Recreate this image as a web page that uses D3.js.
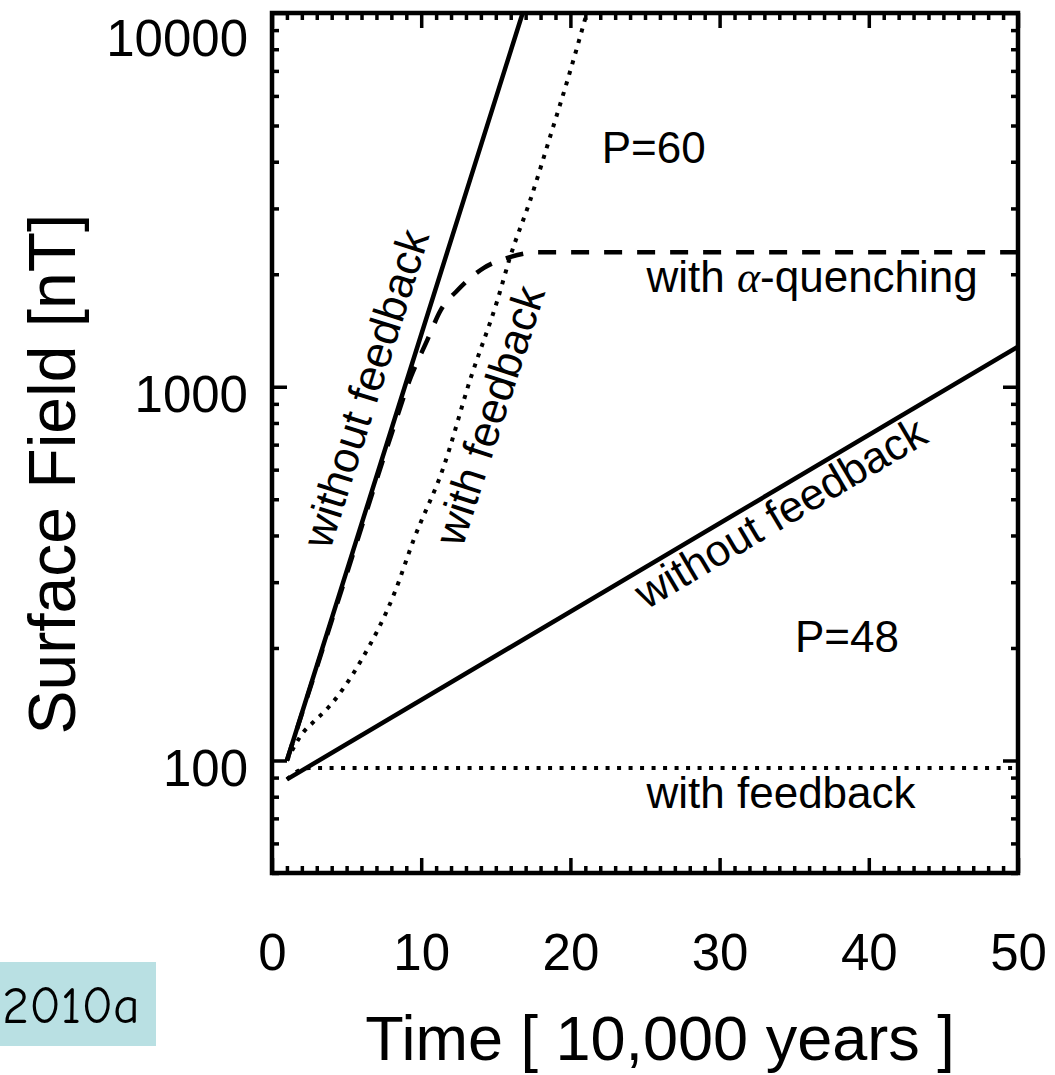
<!DOCTYPE html>
<html>
<head>
<meta charset="utf-8">
<script src="https://cdn.jsdelivr.net/npm/d3@7"></script>
<style>
  html, body { margin: 0; padding: 0; background: #fff; overflow: hidden; }
  svg { display: block; width: 100vw; height: 100vh; font-family: "Liberation Sans", Arial, Helvetica, sans-serif; }
</style>
</head>
<body>
<svg></svg>
<script>
// values (time in 10,000 years, field in nT)
const p60WithoutTime = [1, 8.9, 16.8];
const p60WithoutField = [100, 1000, 10000];

const p60WithTime = [1, 2.1, 2.8, 3.8, 6, 8.2, 9.5, 11.5, 13.3, 15.1, 16.0, 17.3, 18.7, 19.8, 21.1];
const p60WithField = [100, 119, 127, 139, 186, 280, 390, 610, 1050, 1700, 2250, 3150, 4750, 6600, 10000];

const quenchTime = [1, 5, 8, 9.3, 10.4, 11.3, 12.45, 14.2, 16, 17.8, 50];
const quenchField = [100, 315, 745, 1060, 1330, 1600, 1815, 2080, 2225, 2290, 2290];

const p48WithoutTime = [1, 50];
const p48WithoutField = [89, 1280];

const p48WithTime = [1, 1.8, 2.5, 50];
const p48WithField = [89, 94, 95.5, 95.5];

const xTicks = [0, 10, 20, 30, 40, 50];
const yTicks = [100, 1000, 10000];

const width = 1055;
const height = 1075;
const margin = { top: 13, right: 37, bottom: 202, left: 272 };
const innerWidth = width - margin.left - margin.right;
const innerHeight = height - margin.top - margin.bottom;

// viewBox keeps the whole figure inside the window whatever its size
const svg = d3.select("svg")
  .attr("viewBox", `0 0 ${width} ${height}`)
  .attr("preserveAspectRatio", "xMidYMid meet");

const xScale = d3.scaleLinear().domain([0, 50]).range([0, innerWidth]);
const yScale = d3.scaleLog().domain([50, 10000]).range([innerHeight, 0]);

const chartGroup = svg.append("g")
  .attr("transform", `translate(${margin.left},${margin.top})`);

// minor tick values
const xMinor = d3.range(0, 51).filter(d => d % 10 !== 0);
const yMinor = [];
[10, 100, 1000].forEach(dec => {
  for (let k = 2; k <= 9; k++) {
    if (k * dec >= 50 && k * dec < 10000) yMinor.push(k * dec);
  }
});

function styleAxis(g) {
  g.select(".domain").remove();
  g.selectAll("line").attr("stroke", "#000").attr("stroke-width", 3.5);
}
// ticks only: drop the empty labels
function ticksOnly(g) {
  styleAxis(g);
  g.selectAll("text").remove();
}

// bottom axis with labels
chartGroup.append("g")
  .attr("transform", `translate(0,${innerHeight})`)
  .call(d3.axisBottom(xScale).tickValues(xTicks).tickSize(-15).tickPadding(61))
  .call(styleAxis)
  .call(g => g.selectAll("text").attr("font-size", 51).attr("fill", "#000")
    .attr("font-family", "Liberation Sans, Arial, sans-serif"));
chartGroup.append("g")
  .attr("transform", `translate(0,${innerHeight})`)
  .call(d3.axisBottom(xScale).tickValues(xMinor).tickSize(-7))
  .call(ticksOnly);

// top axis, ticks only
chartGroup.append("g")
  .call(d3.axisTop(xScale).tickValues(xTicks).tickSize(-15))
  .call(ticksOnly);
chartGroup.append("g")
  .call(d3.axisTop(xScale).tickValues(xMinor).tickSize(-7))
  .call(ticksOnly);

// left axis with labels
chartGroup.append("g")
  .call(d3.axisLeft(yScale).tickValues(yTicks).tickSize(-15).tickPadding(24).tickFormat(d3.format("d")))
  .call(styleAxis)
  .call(g => g.selectAll("text").attr("font-size", 51).attr("fill", "#000")
    .attr("font-family", "Liberation Sans, Arial, sans-serif")
    .attr("dy", d => d === 10000 ? 42 : 25));
chartGroup.append("g")
  .call(d3.axisLeft(yScale).tickValues(yMinor).tickSize(-7))
  .call(ticksOnly);

// right axis, ticks only
chartGroup.append("g")
  .attr("transform", `translate(${innerWidth},0)`)
  .call(d3.axisRight(yScale).tickValues(yTicks).tickSize(-15))
  .call(ticksOnly);
chartGroup.append("g")
  .attr("transform", `translate(${innerWidth},0)`)
  .call(d3.axisRight(yScale).tickValues(yMinor).tickSize(-7))
  .call(ticksOnly);

// clip the curves to the frame
svg.append("defs").append("clipPath").attr("id", "plot-clip")
  .append("rect").attr("width", innerWidth).attr("height", innerHeight);

const curves = chartGroup.append("g").attr("clip-path", "url(#plot-clip)");

const line = d3.line()
  .x(d => xScale(d[0]))
  .y(d => yScale(d[1]))
  .curve(d3.curveMonotoneX);

function addCurve(times, fields, dash, w) {
  curves.append("path")
    .datum(times.map((t, i) => [t, fields[i]]))
    .attr("fill", "none")
    .attr("stroke", "#000")
    .attr("stroke-width", w)
    .attr("stroke-dasharray", dash)
    .attr("d", line);
}

addCurve(p48WithTime, p48WithField, "4 7.5", 4);
addCurve(p48WithoutTime, p48WithoutField, null, 4.5);
addCurve(p60WithTime, p60WithField, "4 7", 4);
addCurve(quenchTime, quenchField, "18 15", 4.5);
addCurve(p60WithoutTime, p60WithoutField, null, 4.5);

// frame
chartGroup.append("rect")
  .attr("width", innerWidth)
  .attr("height", innerHeight)
  .attr("fill", "none")
  .attr("stroke", "#000")
  .attr("stroke-width", 4.5);

// annotations
function note(t, v, txt, angle) {
  const x = xScale(t), y = yScale(v);
  return chartGroup.append("text")
    .attr("transform", `translate(${x},${y}) rotate(${angle || 0})`)
    .attr("font-size", 44)
    .attr("text-anchor", angle ? "middle" : "start")
    .text(txt);
}

note(22.1, 3975, "P=60");
note(35.05, 195, "P=48");
note(25.1, 74.6, "with feedback");
const q = note(25.1, 1795, "with ");
q.append("tspan").attr("font-family", "Liberation Serif, serif").attr("font-style", "italic").text("α");
q.append("tspan").text("-quenching");
note(7.24, 962, "without feedback", -72.5);
note(15.55, 815, "with feedback", -72);
note(34.6, 425, "without feedback", -30.7);

// axis titles
svg.append("text")
  .attr("transform", `translate(75, 474) rotate(-90)`)
  .attr("text-anchor", "middle")
  .attr("font-size", 66)
  .text("Surface Field [nT]");

svg.append("text")
  .attr("x", 660)
  .attr("y", 1060)
  .attr("text-anchor", "middle")
  .attr("font-size", 63)
  .text("Time [ 10,000 years ]");

// citation tag in the lower left corner
svg.append("rect")
  .attr("x", 0).attr("y", 962)
  .attr("width", 156).attr("height", 84)
  .attr("fill", "#b9e0e3");
svg.append("text")
  .attr("x", 2).attr("y", 1023)
  .attr("font-family", "'Comic Sans MS', 'Comic Neue', 'DejaVu Sans', sans-serif")
  .attr("font-size", 52)
  .text("2010a");
</script>
</body>
</html>
